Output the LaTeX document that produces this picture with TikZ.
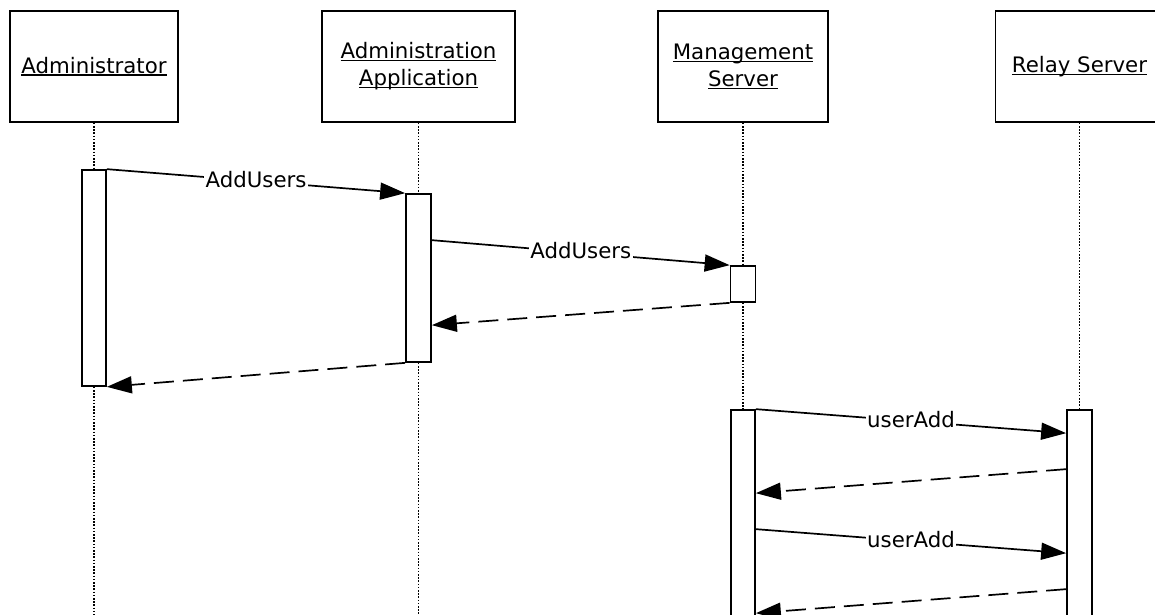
\documentclass[tikz,border=0pt]{standalone}
\usepackage{fontspec}
\setmainfont{DejaVu Sans}
\usetikzlibrary{arrows.meta}
\newcommand\ulx[1]{\setbox0\hbox{#1}\rlap{\rule[-2.6pt]{\wd0}{1.4pt}}\box0}
\begin{document}
\begin{tikzpicture}[x=1pt,y=-1pt,
  head/.style={draw, line width=1.7pt, minimum height=111pt, align=center,
    font=\fontsize{21.3}{27}\selectfont, inner sep=0pt},
  act/.style={draw, fill=white, line width=1.7pt, inner sep=0pt, minimum width=24pt},
  life/.style={line width=1.6pt, dash pattern=on 1.6pt off 1.6pt},
  msg/.style={line width=1.7pt, -{Triangle[length=25pt,width=17pt]}},
  ret/.style={msg, dash pattern=on 20pt off 9pt},
  lbl/.style={fill=white, inner sep=1.5pt, yshift=2pt, font=\fontsize{21.3}{25}\selectfont}
]
\useasboundingbox (0,0) rectangle (1155,614);
\clip (0,0) rectangle (1155,614);

% headers
\node[head, minimum width=168pt] (hA) at (94,66.5) {\ulx{Administrator}};
\node[head, minimum width=193pt] (hB) at (418.5,66.5) {\ulx{Administration}\\\ulx{Application}};
\node[head, minimum width=170pt] (hC) at (743,66.5) {\ulx{Management}\\\ulx{Server}};
\node[head, minimum width=168pt] (hD) at (1079.5,66.5) {\ulx{Relay Server}};

% activations
\node[act, minimum height=216pt] (aA) at (94,278) {};
\node[act, minimum height=168pt, minimum width=25pt] (aB) at (418.5,278) {};
\node[act, minimum height=36pt, minimum width=25pt] (aC) at (743,284) {};
\node[act, minimum height=240pt] (aD) at (743,530) {};
\node[act, minimum height=240pt, minimum width=25pt] (aE) at (1079.5,530) {};

% lifeline ends
\coordinate (eA) at (94,620);
\coordinate (eB) at (418.5,620);

% lifelines
\draw[life] (hA.south) -- (aA.north);
\draw[life] (aA.south) -- (eA);
\draw[life] (hB.south) -- (aB.north);
\draw[life] (aB.south) -- (eB);
\draw[life] (hC.south) -- (aC.north);
\draw[life] (aC.south) -- (aD.north);
\draw[life] (hD.south) -- (aE.north);

% messages
\draw[msg] (aA.north east) -- node[lbl]{AddUsers} (aB.north west);
\draw[msg] ([yshift=-47pt]aB.north east) -- node[lbl]{AddUsers} (aC.north west);
\draw[ret] (aC.south west) -- ([yshift=-132pt]aB.north east);
\draw[ret] (aB.south west) -- (aA.south east);
\draw[msg] (aD.north east) -- node[lbl]{userAdd} ([yshift=-24pt]aE.north west);
\draw[ret] ([yshift=-60pt]aE.north west) -- ([yshift=-84pt]aD.north east);
\draw[msg] ([yshift=-120pt]aD.north east) -- node[lbl]{userAdd} ([yshift=-144pt]aE.north west);
\draw[ret] ([yshift=-180pt]aE.north west) -- ([yshift=-204pt]aD.north east);
\end{tikzpicture}
\end{document}
